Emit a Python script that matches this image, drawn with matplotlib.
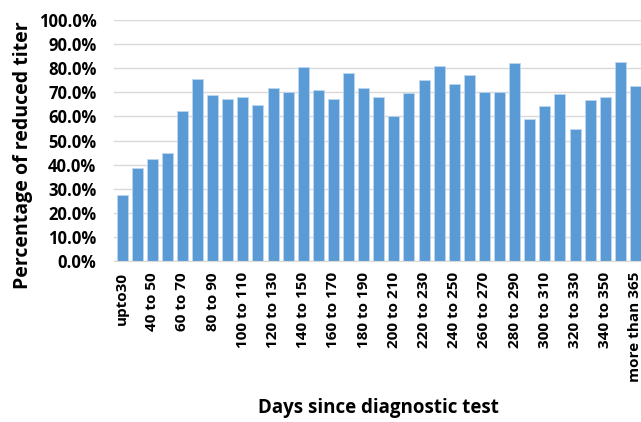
import matplotlib.pyplot as plt
import numpy as np
from matplotlib.ticker import PercentFormatter

categories = ["upto30"] + [f"{a} to {a + 10}" for a in range(30, 350, 10)] + ["350 to 365", "more than 365"]
values = [27.3, 38.5, 42.3, 44.8, 62.4, 75.5, 68.7, 67.1, 68.0, 64.9,
          71.9, 70.0, 80.5, 71.0, 67.2, 78.0, 71.7, 68.2, 60.0, 69.7,
          75.0, 80.9, 73.3, 77.3, 70.0, 70.0, 82.2, 58.8, 64.4, 69.2,
          54.8, 66.7, 68.0, 82.6, 72.5]

plt.rcParams['font.family'] = ['Open Sans', 'DejaVu Sans']

fig = plt.figure(figsize=(6.41, 4.22), dpi=100)
ax = fig.add_axes([0.1786, 0.3815, 0.8245, 0.571])

x = np.arange(len(categories))
ax.bar(x, values, width=0.73, color="#5B9BD5", edgecolor="#BDD7EE", linewidth=0.6, zorder=2)

ax.set_xlim(-0.5, len(categories) - 0.5)
ax.set_ylim(0, 100)
ax.set_yticks(np.arange(0, 101, 10))
ax.yaxis.set_major_formatter(PercentFormatter(decimals=1))
ax.grid(axis="y", color="#D9D9D9", linewidth=1, zorder=0)

ax.set_xticks(x[::2])
ax.set_xticklabels(categories[::2], rotation=90, fontsize=11, fontweight="bold")
for lbl in ax.get_yticklabels():
    lbl.set_fontsize(12)
    lbl.set_fontweight("bold")
ax.tick_params(axis="x", length=0, pad=8)
ax.tick_params(axis="y", length=0, pad=13)

for s in ["top", "right", "left"]:
    ax.spines[s].set_visible(False)
ax.spines["bottom"].set_color("#D9D9D9")

ax.set_ylabel("Percentage of reduced titer", fontsize=14, fontweight="bold")
ax.yaxis.set_label_coords(-0.155, 0.44)
ax.set_xlabel("Days since diagnostic test", fontsize=13.5, fontweight="bold", labelpad=11)

fig.savefig("out.png", dpi=100)
